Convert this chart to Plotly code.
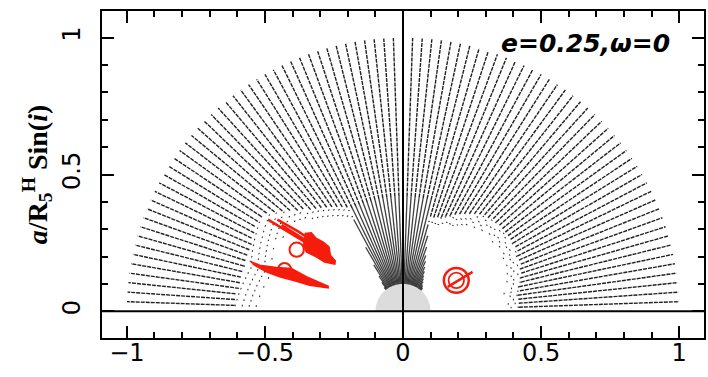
import numpy as np
import plotly.graph_objects as go

# ---------------- data ----------------
# ray inclination angles (deg) of the simulation grid
angles_deg = list(range(2, 180, 2))  # 89 rays

# radius where the inner (wedge) part of the ray ends: 0 = no inner part, 1 = full ray
wedge_r = ([0.0] * 24 +
           [0.11, 0.115, 0.12, 0.13, 0.14, 0.15, 0.165, 0.18, 0.20, 0.22, 0.25, 0.29, 0.33] +
           [1.0] * 21 +
           [0.38, 0.27, 0.20, 0.155, 0.13, 0.11] +
           [0.0] * 25)

# radius where sparse (unstable boundary) points start along the ray
sparse_r = ([0.39, 0.38, 0.40, 0.39, 0.37, 0.40, 0.41, 0.39, 0.41, 0.40, 0.42, 0.41,
             0.43, 0.41, 0.42, 0.44, 0.42, 0.43, 0.41, 0.43, 0.42, 0.44, 0.41, 0.42,
             0.40, 0.41, 0.39, 0.38, 0.37, 0.36, 0.36, 0.36, 0.35, 0.34, 0.34, 0.34, 0.34] +
            [1.0] * 21 +
            [0.39, 0.40, 0.41, 0.42, 0.43, 0.44, 0.45, 0.46, 0.47, 0.49, 0.50, 0.51,
             0.53, 0.52, 0.54, 0.51, 0.53, 0.55, 0.52, 0.54, 0.51, 0.53, 0.55, 0.52,
             0.50, 0.53, 0.51, 0.54, 0.52, 0.55, 0.53])

# radius where the dense stable region starts along the ray (out to 1)
dense_r = ([0.42, 0.42, 0.42, 0.42, 0.43, 0.43, 0.44, 0.44, 0.45, 0.45, 0.46, 0.46,
            0.46, 0.47, 0.47, 0.47, 0.47, 0.47, 0.47, 0.47, 0.47, 0.47, 0.47, 0.46,
            0.46, 0.45, 0.44, 0.43, 0.42, 0.41, 0.40, 0.39, 0.38, 0.37, 0.37, 0.36, 0.36] +
           [1.0] * 21 +
           [0.43, 0.44, 0.45, 0.46, 0.47, 0.48, 0.49, 0.50, 0.52, 0.53, 0.55, 0.57,
            0.59, 0.61, 0.62, 0.62, 0.62, 0.61, 0.61, 0.60, 0.60, 0.60, 0.60, 0.60,
            0.60, 0.60, 0.60, 0.60, 0.61, 0.61, 0.61])

r_hole = 0.1    # grey central disc radius
r_core = 0.42   # end of the dark converging core on full rays
r_outer = 1.0

# red orbit tracks
up_streaks_x = [[-0.489, -0.40, -0.33, -0.29], [-0.455, -0.38, -0.31], [-0.44, -0.37, -0.30]]
up_streaks_y = [[0.335, 0.282, 0.238, 0.212], [0.335, 0.292, 0.245], [0.315, 0.272, 0.226]]
up_blob_x = [-0.356, -0.332, -0.314, -0.29, -0.268, -0.263, -0.245, -0.247, -0.284, -0.314, -0.35, -0.362]
up_blob_y = [0.284, 0.287, 0.266, 0.254, 0.235, 0.205, 0.184, 0.172, 0.180, 0.199, 0.217, 0.248]
low_blob_x = [-0.555, -0.519, -0.459, -0.404, -0.35, -0.271, -0.271, -0.338, -0.399, -0.447, -0.495, -0.544]
low_blob_y = [0.183, 0.168, 0.160, 0.156, 0.126, 0.091, 0.085, 0.095, 0.113, 0.126, 0.144, 0.172]
rings_cx = [-0.385, -0.429, 0.193, 0.193]
rings_cy = [0.225, 0.152, 0.113, 0.113]
rings_r = [0.026, 0.024, 0.045, 0.028]
rings_w = [2.0, 2.0, 2.5, 1.8]
right_tail_x = [0.162, 0.252]
right_tail_y = [0.089, 0.144]

label_text = "e=0.25,ω=0"

# ---------------- build ray segments ----------------
th = np.radians(np.array(angles_deg, dtype=float))
dx, dy, sx, sy, cx_, cy_ = [], [], [], [], [], []
for t, rw, rs, rd in zip(th, wedge_r, sparse_r, dense_r):
    c, s = np.cos(t), np.sin(t)
    if rw >= 1.0:
        cx_ += [r_hole * c, r_core * c, None]; cy_ += [r_hole * s, r_core * s, None]
        dx += [r_core * c, r_outer * c, None]; dy += [r_core * s, r_outer * s, None]
        continue
    if rw > r_hole:
        cx_ += [r_hole * c, rw * c, None]; cy_ += [r_hole * s, rw * s, None]
    sx += [rs * c, rd * c, None]; sy += [rs * s, rd * s, None]
    dx += [rd * c, r_outer * c, None]; dy += [rd * s, r_outer * s, None]

RED = "rgb(246,28,12)"
fig = go.Figure()
fig.add_trace(go.Scatter(x=cx_, y=cy_, mode="lines", hoverinfo="skip", showlegend=False,
                         line=dict(color="rgba(15,15,15,0.8)", width=1.3)))
fig.add_trace(go.Scatter(x=dx, y=dy, mode="lines", hoverinfo="skip", showlegend=False,
                         line=dict(color="rgba(10,10,10,0.9)", width=1.4, dash="4px,1px")))
fig.add_trace(go.Scatter(x=sx, y=sy, mode="lines", hoverinfo="skip", showlegend=False,
                         line=dict(color="#222", width=1.6, dash="1px,6px")))

for bx, by in [(up_blob_x, up_blob_y), (low_blob_x, low_blob_y)]:
    fig.add_trace(go.Scatter(x=bx, y=by, mode="lines", fill="toself", fillcolor=RED,
                             line=dict(color=RED, width=1.5), hoverinfo="skip", showlegend=False))
for lx, ly in zip(up_streaks_x, up_streaks_y):
    fig.add_trace(go.Scatter(x=lx, y=ly, mode="lines", line=dict(color=RED, width=2.5),
                             hoverinfo="skip", showlegend=False))
fig.add_trace(go.Scatter(x=right_tail_x, y=right_tail_y, mode="lines", line=dict(color=RED, width=2.5),
                         hoverinfo="skip", showlegend=False))

xr = [-1.09, 1.09]
yr = [-0.098, 1.098]
yscale = 276.0 / 273.3

shapes = [
    dict(type="circle", xref="x", yref="y", x0=-r_hole, x1=r_hole, y0=-r_hole * yscale, y1=r_hole * yscale,
         fillcolor="#dcdcdc", line=dict(width=0), layer="below"),
    dict(type="rect", xref="x", yref="y", x0=-0.2, x1=0.2, y0=yr[0], y1=0,
         fillcolor="white", line=dict(width=0), layer="below"),
    dict(type="line", xref="x", yref="paper", x0=0, x1=0, y0=0, y1=1,
         line=dict(color="black", width=2), layer="above"),
    dict(type="line", xref="paper", yref="y", x0=0, x1=1, y0=0, y1=0,
         line=dict(color="black", width=2), layer="above"),
]
for cx, cy, rr, w in zip(rings_cx, rings_cy, rings_r, rings_w):
    shapes.append(dict(type="circle", xref="x", yref="y", x0=cx - rr, x1=cx + rr,
                       y0=cy - rr * yscale, y1=cy + rr * yscale,
                       line=dict(color=RED, width=w), layer="above"))

axis_common = dict(showline=True, linewidth=2, linecolor="black", mirror="ticks",
                   ticks="inside", ticklen=12, tickwidth=2, tickcolor="black",
                   tick0=0, dtick=0.5, showgrid=False, zeroline=False, automargin=False,
                   minor=dict(ticks="inside", dtick=0.1, ticklen=6, tickwidth=2, tickcolor="black",
                              showgrid=False),
                   tickfont=dict(family="DejaVu Sans", size=24, color="black"))

fig.update_layout(
    width=708, height=377,
    margin=dict(l=102, r=4, t=11, b=39, autoexpand=False),
    paper_bgcolor="white", plot_bgcolor="white",
    xaxis=dict(range=xr, ticklabelstandoff=-8, **axis_common),
    yaxis=dict(range=yr, tickangle=-90, ticklabelstandoff=10, **axis_common),
    shapes=shapes,
    annotations=[
        dict(text="<b><i>" + label_text + "</i></b>", x=0.662, y=0.98, xref="x", yref="y",
             showarrow=False, xanchor="center", yanchor="middle",
             font=dict(family="DejaVu Sans", size=25, color="black")),
        dict(text="<i>a</i>/R<sub>5</sub><sup>H</sup> Sin(<i>i</i>)", x=0, y=0.498,
             xref="paper", yref="paper", xshift=-65, textangle=-90, showarrow=False,
             xanchor="center", yanchor="middle",
             font=dict(family="Liberation Serif", size=28, color="black", weight="bold")),
    ],
)

fig.write_html("out.html", config={"displayModeBar": False},
               post_script="document.body.style.margin='0';")
